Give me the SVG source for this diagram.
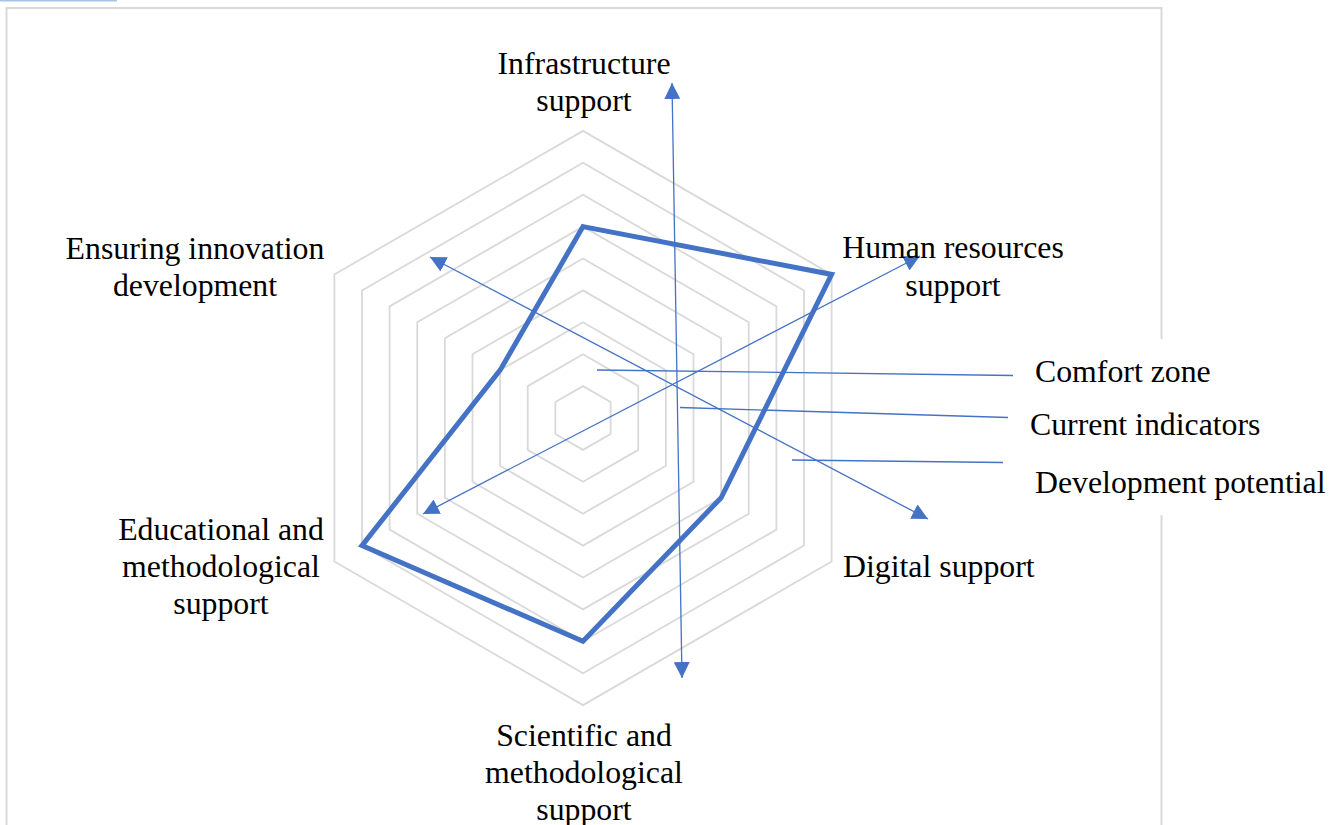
<svg xmlns="http://www.w3.org/2000/svg" width="1343" height="825" viewBox="0 0 1343 825">
<style>
.grid{fill:none;stroke:#d9d9d9;stroke-width:1.8}
.lbl{font-family:"Liberation Serif","Times New Roman",serif;font-size:31.8px;fill:#000}
.mid{text-anchor:middle}
.conn{fill:none;stroke:#4472c4;stroke-width:1.3}
</style>
<defs>
<marker id="ah" viewBox="0 0 16 16" refX="16" refY="8" markerWidth="16" markerHeight="16" markerUnits="userSpaceOnUse" orient="auto-start-reverse">
<path d="M0,0 L16,8 L0,16 z" fill="#4472c4"/>
</marker>
</defs>
<rect width="1343" height="825" fill="#fff"/>
<line x1="0" y1="0.75" x2="117" y2="0.75" stroke="#a6c4ea" stroke-width="1.5"/>
<path d="M6.5,830 V8 H1161.5 V339 M1161.5,515 V830" fill="none" stroke="#d9d9d9" stroke-width="2"/>
<g id="grid">
<polygon class="grid" points="583,386.1 610.63,402.05 610.63,433.95 583,449.9 555.37,433.95 555.37,402.05"/>
<polygon class="grid" points="583,354.2 638.25,386.1 638.25,449.9 583,481.8 527.75,449.9 527.75,386.1"/>
<polygon class="grid" points="583,322.3 665.88,370.15 665.88,465.85 583,513.7 500.12,465.85 500.12,370.15"/>
<polygon class="grid" points="583,290.4 693.5,354.2 693.5,481.8 583,545.6 472.5,481.8 472.5,354.2"/>
<polygon class="grid" points="583,258.5 721.13,338.25 721.13,497.75 583,577.5 444.87,497.75 444.87,338.25"/>
<polygon class="grid" points="583,226.6 748.75,322.3 748.75,513.7 583,609.4 417.25,513.7 417.25,322.3"/>
<polygon class="grid" points="583,194.7 776.38,306.35 776.38,529.65 583,641.3 389.62,529.65 389.62,306.35"/>
<polygon class="grid" points="583,162.8 804,290.4 804,545.6 583,673.2 362,545.6 362,290.4"/>
<polygon class="grid" points="583,130.9 831.63,274.45 831.63,561.55 583,705.1 334.37,561.55 334.37,274.45"/>
</g>
<g id="data">
<polygon points="583,226.6 831.63,274.45 721.13,497.75 583,641.3 362,545.6 500.12,370.15" fill="none" stroke="#4472c4" stroke-width="5" stroke-linejoin="miter"/>
</g>
<g id="connectors">
<line class="conn" x1="682" y1="678" x2="672" y2="83" marker-start="url(#ah)" marker-end="url(#ah)"/>
<line class="conn" x1="423" y1="514" x2="920" y2="256" marker-start="url(#ah)" marker-end="url(#ah)"/>
<line class="conn" x1="430" y1="257" x2="928" y2="519" marker-start="url(#ah)" marker-end="url(#ah)"/>
<line class="conn" x1="597" y1="370" x2="1013" y2="375.5"/>
<line class="conn" x1="680" y1="407.5" x2="1008" y2="417.5"/>
<line class="conn" x1="792" y1="460" x2="1003" y2="462.5"/>
</g>
<g id="label-infrastructure"><text class="lbl mid" x="584" y="74">Infrastructure</text><text class="lbl mid" x="584" y="111">support</text></g>
<g id="label-human"><text class="lbl mid" x="953" y="258">Human resources</text><text class="lbl mid" x="953" y="296">support</text></g>
<g id="label-digital"><text class="lbl" x="843" y="577">Digital support</text></g>
<g id="label-scientific"><text class="lbl mid" x="584" y="746">Scientific and</text><text class="lbl mid" x="584" y="783">methodological</text><text class="lbl mid" x="584" y="820">support</text></g>
<g id="label-educational"><text class="lbl mid" x="221" y="540">Educational and</text><text class="lbl mid" x="221" y="577">methodological</text><text class="lbl mid" x="221" y="614">support</text></g>
<g id="label-innovation"><text class="lbl mid" x="195" y="259">Ensuring innovation</text><text class="lbl mid" x="195" y="296">development</text></g>
<g id="legend">
<text class="lbl" x="1035" y="382">Comfort zone</text>
<text class="lbl" x="1030" y="435">Current indicators</text>
<text class="lbl" x="1035" y="493">Development potential</text>
</g>
</svg>
